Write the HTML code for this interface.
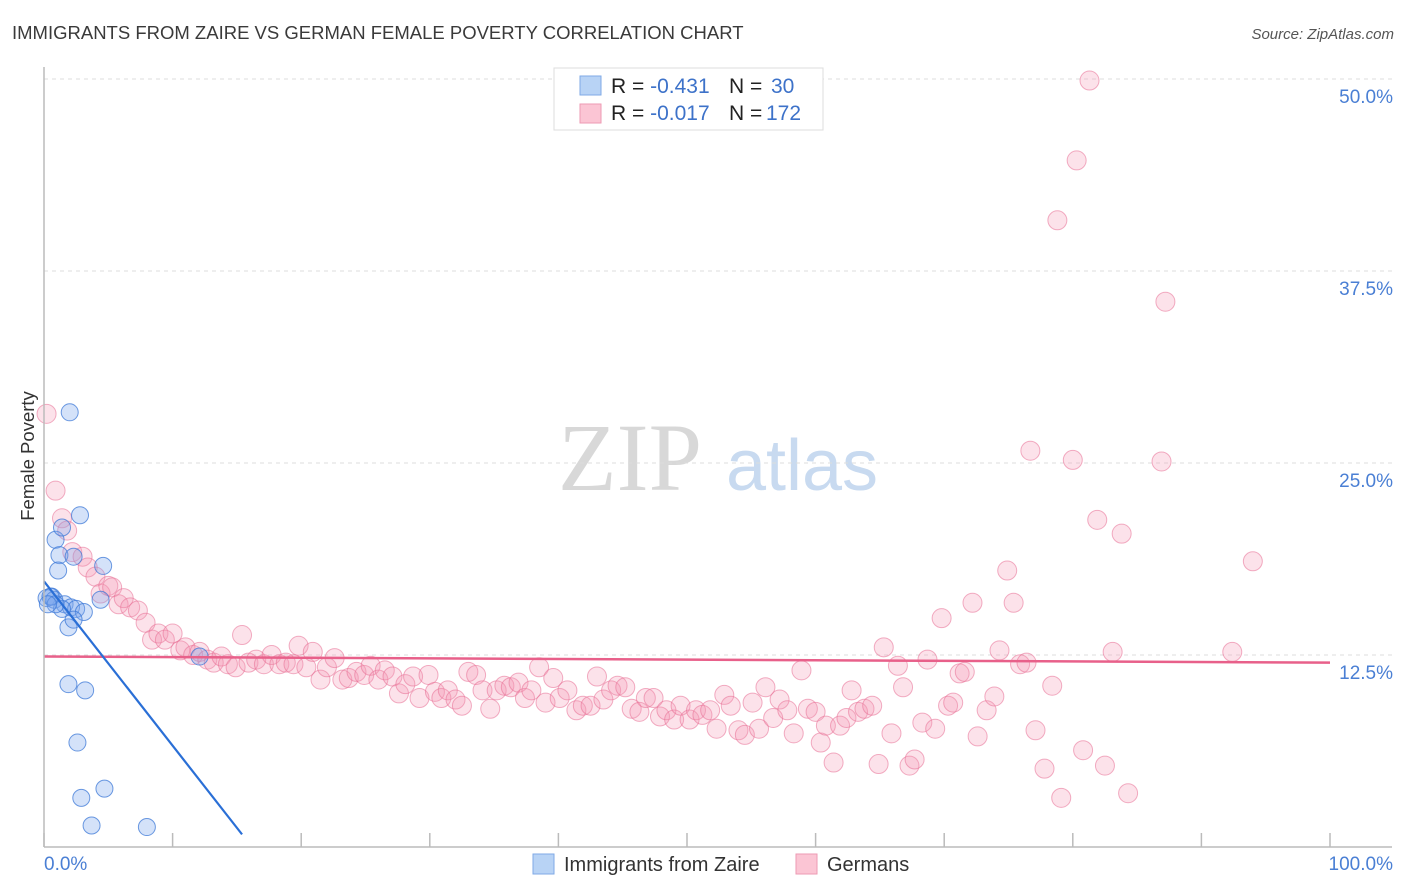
<!DOCTYPE html>
<html><head><meta charset="utf-8"><style>
body{margin:0;background:#fff;font-family:"Liberation Sans",sans-serif;}
#wrap{position:relative;width:1406px;height:892px;overflow:hidden;}
</style></head><body>
<div id="wrap">
<svg id="chart" width="1406" height="892" xmlns="http://www.w3.org/2000/svg">
<text x="12" y="39" font-size="18.5" fill="#3a3a3a">IMMIGRANTS FROM ZAIRE VS GERMAN FEMALE POVERTY CORRELATION CHART</text>
<text x="1394" y="39" font-size="15" fill="#555" text-anchor="end" font-style="italic">Source: ZipAtlas.com</text>
<text x="630" y="490" font-size="96" fill="#d8d8d8" text-anchor="middle" font-family="Liberation Serif,serif">ZIP</text>
<text x="802" y="490" font-size="72" fill="#c8daf0" text-anchor="middle">atlas</text>
<text transform="translate(34,456) rotate(-90)" font-size="18.5" fill="#333" text-anchor="middle">Female Poverty</text>
<g id="grid"></g><g id="pink"></g><g id="blue"></g><g id="lines"></g>
<line x1="44" y1="67" x2="44" y2="847" stroke="#bbb" stroke-width="1.5"/>
<line x1="44" y1="847" x2="1392" y2="847" stroke="#bbb" stroke-width="1.5"/>
<text x="44" y="870" font-size="19" fill="#4a7fd4">0.0%</text>
<text x="1393" y="870" font-size="19" fill="#4a7fd4" text-anchor="end">100.0%</text>
<g>
<rect x="554" y="68" width="269" height="62" fill="#fff" stroke="#ddd"/>
<rect x="580" y="76" width="21" height="19" fill="#b8d3f5" stroke="#7fa9e6"/>
<rect x="580" y="104" width="21" height="19" fill="#fbc5d4" stroke="#ee9ab3"/>
<text x="611" y="93" font-size="21" fill="#222">R = <tspan fill="#3d72c9">-0.431</tspan><tspan x="729">N = </tspan><tspan x="771" fill="#3d72c9">30</tspan></text>
<text x="611" y="120" font-size="21" fill="#222">R = <tspan fill="#3d72c9">-0.017</tspan><tspan x="729">N = </tspan><tspan x="766" fill="#3d72c9">172</tspan></text>
</g>
<g>
<rect x="533" y="854" width="21" height="20" fill="#b8d3f5" stroke="#7fa9e6"/>
<text x="564" y="871" font-size="20" fill="#333">Immigrants from Zaire</text>
<rect x="796" y="854" width="21" height="20" fill="#fbc5d4" stroke="#ee9ab3"/>
<text x="827" y="871" font-size="20" fill="#333">Germans</text>
</g>
</svg></div>
<script>
const yTicks=[12.5,25,37.5,50];
const yTickLabels=["12.5%","25.0%","37.5%","50.0%"];
const xTicks=[0,10,20,30,40,50,60,70,80,90,100];
const blueX=[2.0,0.2,0.6,0.8,0.5,0.9,2.8,1.4,1.2,1.1,2.3,4.6,1.6,2.1,2.5,3.1,1.9,2.3,4.4,12.1,1.9,3.2,2.6,2.9,4.7,3.7,8.0,1.4,0.9,0.3];
const blueY=[28.3,16.2,16.3,16.1,16.3,20.0,21.6,20.8,19.0,18.0,18.9,18.3,15.8,15.6,15.5,15.3,14.3,14.8,16.1,12.4,10.6,10.2,6.8,3.2,3.8,1.4,1.3,15.5,15.8,15.8];
const pinkX=[0.2,0.9,1.4,1.8,2.2,3.0,3.4,4.0,4.4,5.0,5.3,5.8,6.2,6.7,7.3,7.9,8.4,8.9,9.4,10.0,10.6,11.0,11.6,12.1,12.7,13.2,13.8,14.3,14.9,15.4,15.9,16.5,17.1,17.7,18.3,18.8,19.4,19.8,20.4,20.9,21.5,22.0,22.6,23.2,23.7,24.3,24.9,25.4,26.0,26.5,27.1,27.6,28.1,28.7,29.2,29.9,30.4,30.9,31.4,32.0,32.5,33.0,33.6,34.1,34.7,35.2,35.8,36.3,36.9,37.4,37.9,38.5,39.0,39.6,40.1,40.7,41.4,41.9,42.5,43.0,43.5,44.1,44.6,45.2,45.7,46.3,46.8,47.4,47.9,48.4,49.0,49.5,50.2,50.7,51.2,51.8,52.3,52.9,53.4,54.0,54.5,55.1,55.6,56.1,56.7,57.2,57.8,58.3,58.9,59.4,60.0,60.4,60.8,61.4,61.9,62.4,62.8,63.3,63.8,64.4,64.9,65.3,65.9,66.4,66.8,67.3,67.7,68.3,68.7,69.3,69.8,70.3,70.7,71.2,71.6,72.2,72.6,73.3,73.9,74.3,74.9,75.4,75.9,76.4,76.7,77.1,77.8,78.4,78.8,79.1,80.0,80.3,80.8,81.3,81.9,82.5,83.1,83.8,84.3,86.9,87.2,92.4,94.0];
const pinkY=[28.2,23.2,21.4,20.6,19.2,18.9,18.2,17.6,16.5,17.0,16.9,15.8,16.2,15.6,15.4,14.6,13.5,13.9,13.5,13.9,12.8,13.0,12.5,12.7,12.2,12.0,12.4,11.9,11.7,13.8,12.0,12.2,11.9,12.5,11.9,12.0,11.9,13.1,11.7,12.7,10.9,11.7,12.3,10.9,11.0,11.4,11.2,11.8,10.9,11.5,11.1,10.0,10.6,11.1,9.7,11.2,10.1,9.7,10.2,9.6,9.2,11.4,11.2,10.2,9.0,10.2,10.5,10.4,10.7,9.7,10.2,11.7,9.4,11.0,9.7,10.2,8.9,9.2,9.2,11.1,9.6,10.2,10.5,10.4,9.0,8.8,9.7,9.7,8.5,8.9,8.3,9.2,8.3,8.9,8.6,8.9,7.7,9.9,9.2,7.6,7.3,9.4,7.7,10.4,8.4,9.6,8.9,7.4,11.5,9.0,8.8,6.8,7.9,5.5,7.9,8.4,10.2,8.8,9.0,9.2,5.4,13.0,7.4,11.8,10.4,5.3,5.7,8.1,12.2,7.7,14.9,9.2,9.4,11.3,11.4,15.9,7.2,8.9,9.8,12.8,18.0,15.9,11.9,12.0,25.8,7.6,5.1,10.5,40.8,3.2,25.2,44.7,6.3,49.9,21.3,5.3,12.7,20.4,3.5,25.1,35.5,12.7,18.6];
const blueTrend=[17.3,-1.07,15.4];
const pinkTrend=[12.4,-0.004,100];

const NS="http://www.w3.org/2000/svg";
const xs=v=>44+v*12.86;
const ys=v=>847-v*15.36;
function mk(tag,attrs,parent){const e=document.createElementNS(NS,tag);for(const k in attrs)e.setAttribute(k,attrs[k]);parent.appendChild(e);return e;}
const grid=document.getElementById('grid');
yTicks.forEach((t,i)=>{
  const l=mk('line',{x1:44,x2:1392,y1:ys(t),y2:ys(t),stroke:'#ddd','stroke-dasharray':'4,4'},grid);
  
  
  const tx=mk('text',{x:1393,y:ys(t)+24,'font-size':19,fill:'#4a7fd4','text-anchor':'end'},grid);
  tx.textContent=yTickLabels[i];
  
  
});
const topLine=mk('line',{x1:44,x2:1392,y1:79,y2:79,stroke:'#ddd','stroke-dasharray':'4,4'},grid);


xTicks.forEach(t=>{
  const l=mk('line',{x1:xs(t),x2:xs(t),y1:833,y2:847,stroke:'#bbb','stroke-width':1.5},grid);
  
  
});
const pg=document.getElementById('pink');
pinkX.forEach((x,i)=>{
  const c=mk('circle',{cx:xs(x),cy:ys(pinkY[i]),r:9.5,fill:'rgba(244,150,178,0.28)',stroke:'rgba(232,110,148,0.55)','stroke-width':1},pg);
  
  
});
const bg=document.getElementById('blue');
blueX.forEach((x,i)=>{
  const c=mk('circle',{cx:xs(x),cy:ys(blueY[i]),r:8.5,fill:'rgba(120,165,235,0.32)',stroke:'rgba(60,120,215,0.75)','stroke-width':1},bg);
  
  
});
const lg=document.getElementById('lines');
const pl=mk('line',{x1:xs(0),y1:ys(pinkTrend[0]),x2:xs(pinkTrend[2]),y2:ys(pinkTrend[0]+pinkTrend[1]*pinkTrend[2]),stroke:'#e8608a','stroke-width':2.5},lg);


const bl=mk('line',{x1:xs(0),y1:ys(blueTrend[0]),x2:xs(blueTrend[2]),y2:ys(blueTrend[0]+blueTrend[1]*blueTrend[2]),stroke:'#2a6fd6','stroke-width':2.2},lg);


</script>
</body></html>
